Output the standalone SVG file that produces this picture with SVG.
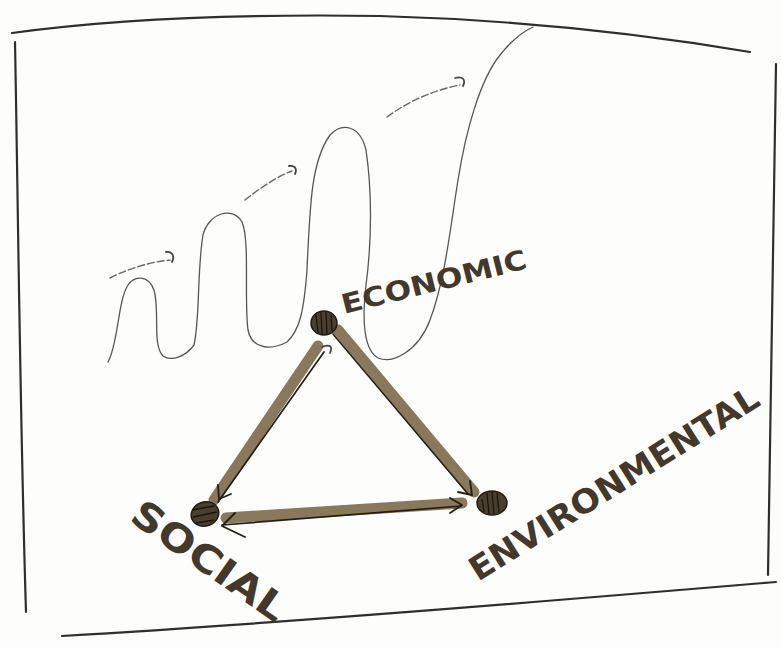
<svg xmlns="http://www.w3.org/2000/svg" width="781" height="648" viewBox="0 0 781 648">
<style>
.frame{fill:none;stroke:#2e2e2e;stroke-width:2.2;stroke-linecap:round}
.wave{fill:none;stroke:#555;stroke-width:1.3;stroke-linecap:round}
.flow{fill:none;stroke:#666;stroke-width:1.4;stroke-dasharray:7 3;stroke-linecap:round}
.hook{fill:none;stroke:#444;stroke-width:1.8;stroke-linecap:round}
.bar{fill:none;stroke:#7f6c4d;stroke-width:11;stroke-linecap:round;opacity:0.92}
.barline{fill:none;stroke:#241e14;stroke-width:1.7;stroke-linecap:round}
.head{fill:none;stroke:#241e14;stroke-width:1.8;stroke-linecap:round;stroke-linejoin:round}
.node{fill:#4a3f2e;stroke:#1f1a12;stroke-width:1.5}
.hatch{stroke:#1a150e;stroke-width:1.3;fill:none}
.lbl{font-family:"DejaVu Sans","Liberation Sans",sans-serif;font-weight:bold;fill:#43382a}
</style>
<rect width="781" height="648" fill="#fdfdfb"/>
<g id="frame">
<path class="frame" d="M12,33 C120,18 250,14 380,16 C520,20 650,35 750,52"/>
<path class="frame" d="M15,42 C18,200 20,420 26,612"/>
<path class="frame" d="M776,64 C772,250 770,420 768,575"/>
<path class="frame" d="M62,636 C300,622 560,600 776,582"/>
</g>
<g id="growth-curve">
<path class="wave" d="M108,362 C118,345 118,300 128,285 C134,276 148,274 154,290 C160,310 152,345 163,356 C172,362 186,356 194,345 C200,320 197,270 203,235 C208,214 232,205 242,222 C250,240 244,300 248,330 C252,350 272,350 287,342 C300,330 304,310 307,270 C310,200 312,160 330,135 C342,122 360,125 366,150 C372,190 372,240 366,285 C362,320 364,350 378,358 C392,364 418,352 430,320 C445,280 450,230 458,180 C466,130 480,80 500,55 C512,40 522,32 533,27"/>
</g>
<g id="flow-arrows">
<path class="flow" d="M110,278 C130,268 150,262 170,260"/>
<path class="hook" d="M166,252 C172,251 175,256 172,262"/>
<path class="flow" d="M245,200 C260,188 278,176 292,171"/>
<path class="hook" d="M289,166 C296,165 297,170 295,174"/>
<path class="flow" d="M387,117 C410,100 435,90 460,85"/>
<path class="hook" d="M455,78 C463,76 466,80 463,86"/>
</g>
<g id="connectors">
<g id="econ-env">
<line class="bar" x1="338" y1="330" x2="474" y2="492"/>
<line class="barline" x1="333" y1="334" x2="468" y2="494"/>
<path class="head" d="M470,481 L472,495 L458,492"/>
</g>
<g id="social-econ">
<line class="bar" x1="214" y1="500" x2="318" y2="346"/>
<line class="barline" x1="218" y1="502" x2="324" y2="352"/>
<path class="head" d="M218,485 L219,499 L231,494"/>
<path class="hook" d="M322,347 C330,344 333,346 330,353"/>
</g>
<g id="social-env">
<line class="bar" x1="226" y1="518" x2="462" y2="503"/>
<line class="barline" x1="222" y1="525" x2="461" y2="506"/>
<path class="head" d="M450,498 L462,505 L450,513"/>
<path class="head" d="M235,513 L222,526 L245,537"/>
</g>
</g>
<g id="node-economic">
<ellipse class="node" cx="324" cy="323" rx="13" ry="12"/>
<path class="hatch" d="M316,315 L318,333 M321,312 L322,335 M326,312 L327,335 M331,315 L332,331"/>
</g>
<g id="node-social">
<ellipse class="node" cx="205" cy="514" rx="14" ry="12" transform="rotate(-20 205 514)"/>
<path class="hatch" d="M192,510 L214,506 M193,517 L217,512 M196,523 L214,520"/>
</g>
<g id="node-environmental">
<ellipse class="node" cx="492" cy="503" rx="15" ry="12"/>
<path class="hatch" d="M482,499 L484,512 M487,493 L489,514 M492,492 L494,514 M497,493 L499,513"/>
</g>
<g id="labels">
<text class="lbl" font-size="27" transform="translate(344,314) rotate(-14)" textLength="190" lengthAdjust="spacingAndGlyphs">ECONOMIC</text>
<text class="lbl" font-size="38" transform="translate(128,520) rotate(35)" textLength="180" lengthAdjust="spacingAndGlyphs">SOCIAL</text>
<text class="lbl" font-size="33" transform="translate(478,582) rotate(-32)" textLength="335" lengthAdjust="spacingAndGlyphs">ENVIRONMENTAL</text>
</g>
</svg>
